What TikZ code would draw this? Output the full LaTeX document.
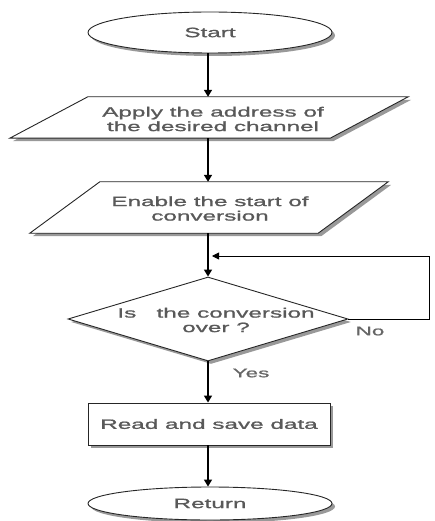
\documentclass[tikz,border=0pt]{standalone}
\usepackage{fontspec}
\setmainfont{Liberation Sans}[FakeStretch=1.8,FakeBold=1.2]
\usetikzlibrary{shapes.geometric,shadows,arrows.meta}
\tikzset{
  shd/.style={drop shadow={shadow xshift=3pt, shadow yshift=-3pt, fill=black!40, opacity=1}},
  box/.style={draw=black!85, line width=0.9pt, fill=white, shd},
  txt/.style={text=black!65, font=\fontsize{13.5}{14.5}\selectfont, align=center, inner sep=0pt},
  lbl/.style={text=black!60, font=\fontsize{12.5}{14}\selectfont, inner sep=0pt},
  term/.style={box, ellipse, minimum width=244pt, minimum height=41pt, inner sep=0pt},
  arr/.style={line width=1.4pt, -{Triangle[width=8pt,length=7pt]}},
  fbline/.style={line width=0.9pt, -{Triangle[width=7pt,length=7pt]}}
}
\begin{document}
\begin{tikzpicture}[x=1pt,y=-1pt]
\useasboundingbox (0,0) rectangle (434,521);
% Start
\node[term] (start) at (210,32.5) {};
\node[txt] (startt) at (start) {Start};
% Parallelogram 1
\node[minimum width=320pt, minimum height=41pt, inner sep=0pt] (p1) at (209,117.5) {};
\draw[box] ([xshift=39pt]p1.north west) -- ([xshift=39pt]p1.north east)
  -- ([xshift=-39pt]p1.south east) -- ([xshift=-39pt]p1.south west) -- cycle;
\node[txt] (p1t) at (213,119) {Apply the address of\\the desired channel};
% Parallelogram 2
\node[minimum width=288pt, minimum height=51pt, inner sep=0pt] (p2) at (209,207.5) {};
\draw[box] ([xshift=35pt]p2.north west) -- ([xshift=35pt]p2.north east)
  -- ([xshift=-35pt]p2.south east) -- ([xshift=-35pt]p2.south west) -- cycle;
\node[txt] (p2t) at (210,208.5) {Enable the start of\\conversion};
% Decision
\node[box, diamond, minimum width=280pt, minimum height=84pt, inner sep=0pt] (dec) at (208,319) {};
\node[txt] (dect) at (216,320) {Is\ \ \ the conversion\\over ?};
% Read
\node[box, rectangle, minimum width=242pt, minimum height=42pt, inner sep=0pt] (rd) at (209,424) {};
\node[txt] (rdt) at (rd) {Read and save data};
% Return
\node[term, minimum height=33pt] (ret) at (210,503.5) {};
\node[txt] (rett) at (ret) {Return};
% connectors
\draw[arr] (start.south -| 208,0) -- (p1.north -| 208,0);
\draw[arr] (p1.south -| 208,0) -- (p2.north -| 208,0);
\draw[arr] (p2.south -| 208,0) -- (dec.north);
\draw[arr] (dec.south) -- (rd.north -| 208,0);
\draw[arr] (rd.south -| 208,0) -- (ret.north -| 208,0);
% feedback loop
\coordinate (fb) at (429,256);
\draw[fbline] (dec.east) -- (dec.east -| fb) -- (fb) -- (212,256);
% labels
\node[lbl] (no) at (370,331) {No};
\node[lbl] (yes) at (251,373) {Yes};
\end{tikzpicture}
\end{document}
